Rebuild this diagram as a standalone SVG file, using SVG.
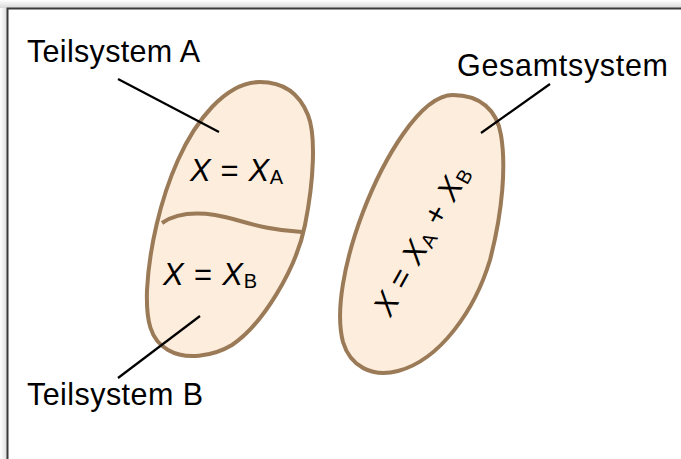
<svg xmlns="http://www.w3.org/2000/svg" width="681" height="459" viewBox="0 0 681 459">
<defs>
<linearGradient id="shL" x1="0" y1="0" x2="1" y2="0"><stop offset="0" stop-color="#ffffff"/><stop offset="1" stop-color="#d8d8d8"/></linearGradient>
<linearGradient id="shT" x1="0" y1="0" x2="0" y2="1"><stop offset="0" stop-color="#ffffff"/><stop offset="1" stop-color="#d8d8d8"/></linearGradient>
<style>
.blob{fill:#fdeddc;stroke:#9a7a57;stroke-width:4;stroke-linejoin:round}
.lead{stroke:#000;stroke-width:2.2;fill:none}
.lbl{font-family:"Liberation Sans",Arial,sans-serif;font-size:30.5px;fill:#000}
.f{font-family:"Liberation Sans",Arial,sans-serif;font-size:31px;fill:#000}
.it{font-style:italic}
.sub{font-size:20px}
</style>
</defs>
<rect width="681" height="459" fill="#fff"/>
<rect x="0" y="0" width="8" height="459" fill="url(#shL)"/>
<rect x="0" y="0" width="681" height="8" fill="url(#shT)"/>
<path d="M7.5,459 V8.5 H681" fill="none" stroke="#3a3a3a" stroke-width="2"/>
<g id="teilsystem-ab">
<path class="blob" d="M260,82 C285,82 300,95 308,115 C316,135 314,180 305,225 C296,270 262,325 232,345 C212,357 185,360 168,350 C150,340 146,320 147,290 C149,250 160,200 178,160 C195,122 225,82 260,82 Z"/>
<path class="blob" fill="none" d="M162,223 C175,214 195,212 215,215 C240,219 260,230 302,232"/>
<text class="f" x="190" y="181" textLength="93" lengthAdjust="spacing"><tspan class="it">X</tspan> = <tspan class="it">X</tspan><tspan class="sub" dy="3">A</tspan></text>
<text class="f" x="163" y="285" textLength="94" lengthAdjust="spacing"><tspan class="it">X</tspan> = <tspan class="it">X</tspan><tspan class="sub" dy="3">B</tspan></text>
</g>
<g id="gesamtsystem">
<path class="blob" d="M453,95 C480,95 497,110 501,135 C506,165 503,210 490,260 C475,310 440,360 398,371 C372,378 350,366 343,342 C335,312 344,262 363,212 C383,160 420,95 453,95 Z"/>
<text class="f" transform="translate(421,240) rotate(-61)" x="-83" y="11" textLength="166" lengthAdjust="spacing"><tspan class="it">X</tspan> = <tspan class="it">X</tspan><tspan class="sub" dy="3">A</tspan><tspan dy="-3"> + </tspan><tspan class="it">X</tspan><tspan class="sub" dy="3">B</tspan></text>
</g>
<g id="labels">
<text class="lbl" x="27" y="62" textLength="173">Teilsystem A</text>
<text class="lbl" x="27" y="405" textLength="176">Teilsystem B</text>
<text class="lbl" x="457" y="76" textLength="211">Gesamtsystem</text>
</g>
<g id="connectors">
<line class="lead" x1="118" y1="79" x2="219" y2="132"/>
<line class="lead" x1="118" y1="378" x2="200" y2="316"/>
<line class="lead" x1="550" y1="84" x2="481" y2="133"/>
</g>
</svg>
